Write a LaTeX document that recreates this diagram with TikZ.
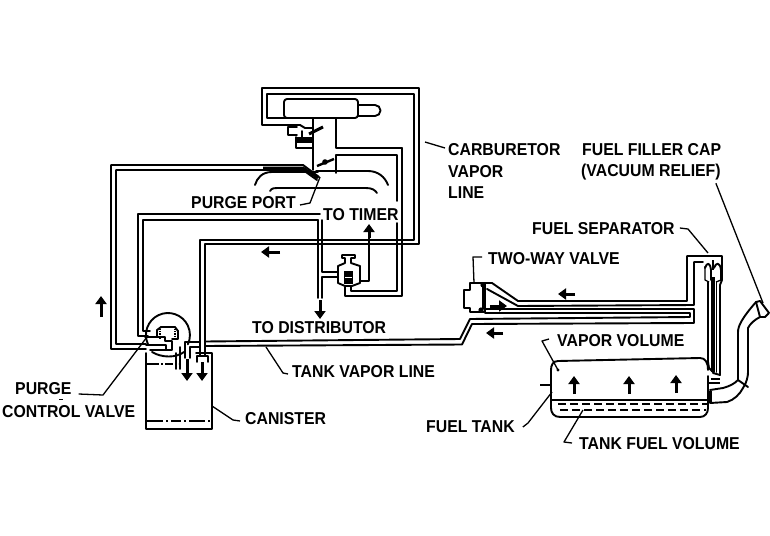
\documentclass[tikz,border=0pt]{standalone}
\usepackage{fontspec}
\setmainfont[FakeStretch=0.92]{Liberation Sans}
\usetikzlibrary{arrows.meta}
\tikzset{
  pipe/.style={draw=black,line width=1.9pt,line join=round,line cap=round},
  thin pipe/.style={draw=black,line width=1.3pt,line join=round},
  leader/.style={draw=black,line width=1.3pt,line join=round},
  flow/.style={draw=black,line width=3pt,-{Triangle[length=8pt,width=11pt]}},
  lab/.style={anchor=west,inner sep=0pt,font=\fontsize{17.2}{18}\selectfont\bfseries,text=black},
  blob/.style={fill=black,draw=none}
}
\begin{document}
\begin{tikzpicture}[x=1pt,y=-1pt]
\useasboundingbox[fill=white] (0,0) rectangle (770,535);

% carburetor vapour loop
\draw[pipe] (300,125) -- (262,125) -- (262,88) -- (419,88) -- (419,244) -- (205,244) -- (205,355);
\draw[pipe] (288,118) -- (267,118) -- (267,94) -- (414,94) -- (414,240) -- (200,240) -- (200,355);
% carburetor
\draw[pipe,rounded corners=3pt] (284,99) rectangle (358,118);
\draw[pipe] (358,105) -- (375,105) arc[start angle=-90,end angle=90,radius=5.5] -- (358,116);
\draw[pipe] (313,118) -- (313,170);
\draw[pipe] (336,118) -- (336,148) -- (402,148);
\draw[pipe] (336,173) -- (336,155) -- (397,155) -- (397,201);
\draw[pipe] (316,171) -- (368,171) .. controls (378,171) and (385,177) .. (388,185);
\draw[pipe] (318,172) -- (272,172) .. controls (262,172) and (257,178) .. (255,185);
\draw[pipe] (270,191) .. controls (272,188) and (274,188) .. (277,188) -- (366,188) .. controls (372,188) and (375,190) .. (377,193);
% throttle
\draw[line width=2.4pt] (317,166) -- (334,159);
\fill (325,162) circle (2.8pt);
% choke parts
\draw[pipe] (297,127) -- (288,127) -- (288,135) -- (297,135);
\draw[pipe] (296,137) -- (296,148) -- (313,148);
\draw[pipe] (300,125) -- (305,128) -- (313,128);
\fill[blob] (297,137) rectangle (313,143);
\draw[line width=3pt] (309,134) -- (323,127);
\draw[pipe] (302,131) -- (302,137);

% pipe to purge port
\draw[pipe] (319,177) -- (303,165) -- (111,165) -- (111,349) -- (146,349);
\draw[pipe] (317,180) -- (303,170) -- (116,170) -- (116,344) -- (146,344);
\draw[line width=2.8pt] (263,168) -- (303,168) -- (318,178);
% pipe to timer valve
\draw[pipe] (320,214) -- (138,214) -- (138,336) -- (148,336);
\draw[pipe] (318,220) -- (143,220) -- (143,331) -- (150,331);
\draw[pipe] (318,220) -- (318,298);
\draw[pipe] (322,220) -- (322,272) -- (338,272);
\draw[pipe] (338,277) -- (322,277) -- (322,298);
% thermal valve
\draw[pipe] (338,283) -- (338,266) -- (345,263) -- (345,258) -- (342,258) -- (342,255) -- (355,255) -- (355,258) -- (351,258) -- (351,263) -- (360,266) -- (360,283) -- (352,286) -- (345,286) -- cycle;
\fill[blob] (344,271) rectangle (353,284);
\draw[white,line width=1pt] (345,277) -- (352,277);
\draw[pipe] (360,281) -- (369,281) -- (369,236);
\draw[pipe] (345,287) -- (345,296) -- (402,296) -- (402,148);
\draw[pipe] (351,287) -- (351,291) -- (397,291) -- (397,223);
\draw[flow] (369,238) -- (369,224);
\draw[flow] (320,300) -- (320,319);
\draw[flow] (280,252) -- (261,252);
\draw[flow] (101,317) -- (101,296);

% purge control valve
\draw[pipe] (148,344.3) arc[start angle=155,end angle=385,radius=22];
\draw[pipe] (152,352) .. controls (162,358) and (176,358) .. (184,352);
\draw[pipe] (145,337) -- (165,337) -- (165,341) -- (172,341) -- (172,350) -- (150,350);
\draw[pipe] (146,345) -- (166,345) -- (166,349);
\draw[pipe] (157,336) -- (157,330) -- (161,327) -- (175,327) -- (178,331) -- (178,339) -- (172,339);
\draw[line width=1.2pt,densely dotted] (160,329) -- (160,339);
\draw[line width=1.2pt,densely dotted] (175,329) -- (175,339);

% canister
\draw[pipe] (146,353) -- (146,429) -- (212,429) -- (212,353) -- (196,353);
\draw[line width=1.3pt,dash pattern=on 12pt off 2pt on 2pt off 2pt on 8pt off 5pt] (147,364) -- (178,364);
\draw[line width=1.3pt,dash pattern=on 16pt off 3pt on 2pt off 3pt on 10pt off 3pt on 2pt off 3pt] (147,421) -- (211,421);
\draw[pipe] (197,362) -- (197,356) -- (208,356) -- (208,362);
\draw[pipe] (176,353) -- (176,369);
\draw[pipe] (180,347) -- (180,369);
\draw[flow] (187,359) -- (187,381);
\draw[flow] (202,362) -- (202,381);
% tank vapour line
\draw[pipe] (185,358) -- (185,342) -- (200,342);
\draw[pipe] (190,358) -- (190,347) -- (200,347);
\draw[pipe] (205,341.5) -- (460,339) -- (470,319) -- (690,317) -- (690,313) -- (485,313);
\draw[pipe] (205,346) -- (462,344.5) -- (472,324) -- (694,323) -- (694,309) -- (485,309);

% two-way valve
\draw[pipe] (470,283) -- (485,283) -- (485,312) -- (470,312) -- (470,308) -- (464,308) -- (464,290) -- (470,290) -- cycle;
\draw[pipe] (483,286) -- (483,309);
\fill (483,285) circle (2.6pt) (481,310) circle (2.6pt);
% upper pair to separator
\draw[pipe] (485,283) -- (492,283) -- (518,301) -- (687,301) -- (687,256) -- (722,256) -- (722,280) -- (720,285) -- (720,375) -- (713,373);
\draw[pipe] (487,289) -- (518,306) -- (694,305) -- (694,262) -- (703,262);
% separator detail
\draw[thin pipe] (705,266) -- (705,280) -- (709,282);
\draw[thin pipe] (721,266) -- (721,280) -- (716,282);
\draw[pipe] (705,268) .. controls (707,262) and (710,262) .. (711,270) -- (711,280);
\draw[pipe] (714,268) .. controls (716,262) and (720,262) .. (721,270) -- (721,280);
\draw[line width=2pt] (713,260) -- (713,270);
\fill[blob] (711,277) rectangle (714.5,372);
\draw[pipe] (708,282) -- (708,362) -- (709,368) -- (714,373);
\draw[pipe] (716.5,282) -- (716.5,372);
% flow arrows
\draw[flow] (575,294) -- (558,294);
\draw[flow] (490,306) -- (507,306);
\draw[flow] (503,333) -- (486,333);

% fuel tank
\draw[pipe] (558,361) -- (700,358) .. controls (705,358) and (708,362) .. (708,370);
\draw[pipe] (558,361) .. controls (553,361) and (551,365) .. (551,370) -- (551,408) .. controls (551,413) and (554,417) .. (560,417) -- (700,417) .. controls (705,417) and (708,413) .. (708,408) -- (708,376);
\draw[line width=2.2pt] (551,400) -- (708,400);
\draw[line width=1.4pt,dash pattern=on 8pt off 4pt] (558,404) -- (708,404);
\draw[line width=1.4pt,dash pattern=on 8pt off 4pt] (560,410) -- (706,410);
\draw[line width=1.4pt] (711,379) -- (720,379) (708,383) -- (720,383);
\draw[line width=1.3pt] (540,385) -- (551,385);
\draw[flow] (574,394) -- (574,376);
\draw[flow] (629,394) -- (629,376);
\draw[flow] (676,393) -- (676,375);
% filler neck
\fill[blob] (708,391) rectangle (712,403);
\draw[pipe] (710,390) -- (723,388) .. controls (730,386) and (734,384) .. (738,380) -- (738,332) .. controls (738,326) and (742,318) .. (756,302);
\draw[pipe] (710,403) -- (727,402) .. controls (734,400) and (740,394) .. (743,388) .. controls (747,382) and (748,376) .. (748,372) -- (748,328) .. controls (750,324) and (754,320) .. (760,317);
\draw[pipe] (756,302) -- (760,301) -- (769,313) -- (765,317) -- (760,317) -- cycle;
\draw[pipe] (738,380) -- (748,387);

% labels
\node[lab] (carb)  at (448,150) {CARBURETOR};
\node[lab] at (448,172) {VAPOR};
\node[lab] at (448,193) {LINE};
\node[lab] (cap)   at (582,150) {FUEL FILLER CAP};
\node[lab] (vac)   at (581,172) {(VACUUM RELIEF)};
\node[lab] (port)  at (191,203) {PURGE PORT};
\node[lab] (timer) at (323,215) {TO TIMER};
\node[lab] (sep)   at (532,229) {FUEL SEPARATOR};
\node[lab] (two)   at (488,259) {TWO-WAY VALVE};
\node[lab] (dist)  at (252,328) {TO DISTRIBUTOR};
\node[lab] (vapv)  at (557,341) {VAPOR VOLUME};
\node[lab] (tvl)   at (292,372) {TANK VAPOR LINE};
\node[lab] (purge) at (15,389) {PURGE};
\node[lab] (cv)    at (2,412) {CONTROL VALVE};
\node[lab] (can)   at (245,419) {CANISTER};
\node[lab] (ft)    at (426,427) {FUEL TANK};
\node[lab] (tfv)   at (579,444) {TANK FUEL VOLUME};

% leaders
\draw[leader] (carb.west) ++(-3,-2) -- (425,142);
\draw[leader] (vac.south east) ++(-5,3) -- (763,303);
\draw[leader] (port.east) ++(4,2) -- (310,203) -- (320,177);
\draw[leader] (sep.east) ++(5,-1) -- (688,229) -- (708,253);
\draw[leader] (two.west) ++(-6,-2) -- (473,257) -- (474,283);
\draw[leader] (vapv.west) ++(-8,-2) -- (542,341) -- (558,370);
\fill (558,370) circle (1.6pt);
\draw[leader] (tvl.west) ++(-4,2) -- (283,373) -- (266,347);
\draw[leader] (purge.east) ++(7,5) -- (103,395) -- (147,337);
\draw[leader] (can.west) ++(-5,2) -- (233,420) -- (212,406);
\draw[leader] (ft.east) ++(8,0) -- (528,423) -- (552,392);
\draw[leader] (tfv.west) ++(-7,-1) -- (564,442) -- (583,410);
\draw[line width=1pt] (59,399) -- (63,399);
\end{tikzpicture}
\end{document}
